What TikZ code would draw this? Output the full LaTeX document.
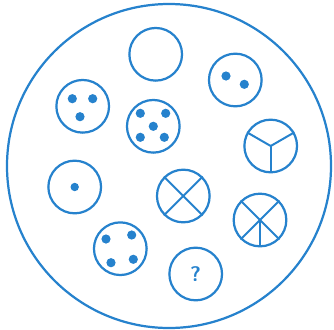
\documentclass[tikz,border=0pt]{standalone}
\usepackage{xcolor}
\usepackage{tikz}
\usetikzlibrary{calc}
\definecolor{puzzleblue}{RGB}{38,130,205}

\begin{document}
\begin{tikzpicture}[
    x=0.03cm, y=-0.03cm,
    disc/.style={circle, draw=puzzleblue, line width=1.9pt, minimum size=1.58cm, inner sep=0pt},
    spoke/.style={draw=puzzleblue, line width=1.7pt},
    dot/.style={fill=puzzleblue}
]
    \useasboundingbox (0,0) rectangle (334,329);
    \node[circle, draw=puzzleblue, line width=1.9pt, minimum size=9.72cm, inner sep=0pt] (outer) at (169,166) {};

    \node[disc] (empty) at (155.7,54.3) {};
    \node[disc] (two) at (235.3,80) {};
    \node[disc] (three) at (82.7,106.3) {};
    \node[disc] (five) at (153.3,126.3) {};
    \node[disc] (thirds) at (270.7,146) {};
    \node[disc] (one) at (74.7,187) {};
    \node[disc] (quarters) at (183.3,196) {};
    \node[disc] (fifths) at (260,220) {};
    \node[disc] (four) at (120.3,248.7) {};
    \node[disc, font=\fontsize{18pt}{18pt}\selectfont\sffamily\bfseries, text=puzzleblue] (unknown) at (195.7,274) {?};

    % dots
    \fill[dot] (two.center) ++(-9.3,-4) circle (4.6);
    \fill[dot] (two.center) ++(9,4.3) circle (4.6);
    \fill[dot] (three.center) ++(-10.4,-7.6) circle (4.6);
    \fill[dot] (three.center) ++(10,-7.6) circle (4.6);
    \fill[dot] (three.center) ++(-2.7,10.4) circle (4.6);
    \fill[dot] (five.center) ++(-13,-13) circle (4.6);
    \fill[dot] (five.center) ++(12.4,-13) circle (4.6);
    \fill[dot] (five.center) circle (4.6);
    \fill[dot] (five.center) ++(-13,11) circle (4.6);
    \fill[dot] (five.center) ++(11,11) circle (4.6);
    \fill[dot] (one.center) circle (4.2);
    \fill[dot] (four.center) ++(-14.3,-9.7) circle (4.6);
    \fill[dot] (four.center) ++(11.4,-13.7) circle (4.6);
    \fill[dot] (four.center) ++(-9.3,14) circle (4.6);
    \fill[dot] (four.center) ++(13,10.6) circle (4.6);

    % spokes
    \foreach \a in {150,30,-90}
        \draw[spoke] (thirds.center) -- (thirds.\a);
    \foreach \a in {45,135,225,315}
        \draw[spoke] (quarters.center) -- (quarters.\a);
    \foreach \a in {45,135,225,315,-90}
        \draw[spoke] (fifths.center) -- (fifths.\a);
\end{tikzpicture}
\end{document}
